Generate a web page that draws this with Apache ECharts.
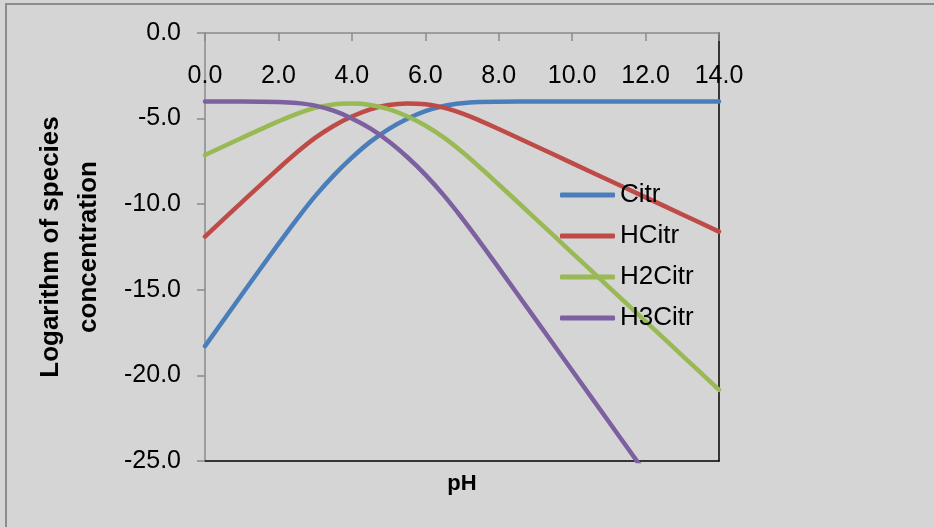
<!DOCTYPE html>
<html>
<head>
<meta charset="utf-8">
<script src="https://cdn.jsdelivr.net/npm/echarts@6/dist/echarts.min.js"></script>
<style>
  html, body { margin: 0; padding: 0; background: #d5d5d5; }
  #chart { width: 934px; height: 527px; }
</style>
</head>
<body>
<div id="chart"></div>
<script>
  const ph = [0, 1, 2, 2.5, 3, 3.5, 4, 4.5, 5, 5.5, 6, 6.5, 7, 7.5, 8, 9, 10, 11, 12, 13, 14];
  const citr = [-18.29, -15.29, -12.32, -10.88, -9.53, -8.33, -7.28, -6.36, -5.61, -5.02, -4.56, -4.26, -4.10, -4.03, -4.01, -4.00, -4.00, -4.00, -4.00, -4.00, -4.00];
  const hcitr = [-11.89, -9.89, -7.92, -6.98, -6.13, -5.43, -4.88, -4.46, -4.21, -4.12, -4.16, -4.36, -4.70, -5.13, -5.61, -6.60, -7.60, -8.60, -9.60, -10.60, -11.60];
  const h2citr = [-7.13, -6.13, -5.16, -4.72, -4.37, -4.17, -4.12, -4.20, -4.45, -4.86, -5.40, -6.10, -6.94, -7.87, -8.85, -10.84, -12.84, -14.84, -16.84, -18.84, -20.84];
  const h3citr = [-4.00, -4.00, -4.03, -4.09, -4.24, -4.54, -4.99, -5.57, -6.32, -7.23, -8.27, -9.47, -10.81, -12.24, -13.72, -16.71, -19.71, -22.71, -25.71, null, null];
  const seriesNames = ["Citr", "HCitr", "H2Citr", "H3Citr"];
  const seriesValues = [citr, hcitr, h2citr, h3citr];
  const colors = ["#4a7ebb", "#be4b48", "#98b954", "#7d60a0"];

  const font = "'Liberation Sans', Arial, sans-serif";
  const chart = echarts.init(document.getElementById("chart"));

  function pairs(values) {
    return ph.map((x, i) => [x, values[i]]);
  }

  chart.setOption({
    animation: false,
    backgroundColor: "#d5d5d5",
    color: colors,
    textStyle: { fontFamily: font },
    grid: { left: 205, right: 215, top: 33, bottom: 66 },
    graphic: [{
      type: "rect",
      silent: true,
      shape: { x: 6, y: 4, width: 1000, height: 600 },
      style: { fill: null, stroke: "#8c8c8c", lineWidth: 2 }
    }],
    legend: {
      orient: "vertical",
      left: 560,
      top: 182,
      padding: 0,
      icon: "roundRect",
      itemWidth: 55,
      itemHeight: 5,
      itemGap: 15,
      data: seriesNames,
      textStyle: { fontSize: 26, color: "#000", fontFamily: font }
    },
    xAxis: [
      {
        type: "value", position: "top", min: 0, max: 14, interval: 2,
        axisLine: { onZero: false, lineStyle: { color: "#8a8a8a", width: 1.5 } },
        axisTick: { inside: true, length: 8, lineStyle: { color: "#8a8a8a", width: 1.5 } },
        axisLabel: { inside: true, margin: 31, fontSize: 25, color: "#000", formatter: (v) => v.toFixed(1) },
        splitLine: { show: false }
      },
      {
        type: "value", position: "bottom", min: 0, max: 14,
        axisLine: { onZero: false, lineStyle: { color: "#000", width: 1.5 } },
        axisTick: { show: false },
        axisLabel: { show: false },
        splitLine: { show: false },
        name: "pH", nameLocation: "middle", nameGap: 12,
        nameTextStyle: { fontSize: 22, fontWeight: "bold", color: "#000", verticalAlign: "top" }
      }
    ],
    yAxis: [
      {
        type: "value", position: "left", min: -25, max: 0, interval: 5,
        axisLine: { show: true, onZero: false, lineStyle: { color: "#8a8a8a", width: 1.5 } },
        axisTick: { show: true, length: 8, lineStyle: { color: "#8a8a8a", width: 1.5 } },
        axisLabel: { margin: 24, fontSize: 25, color: "#000", formatter: (v) => v.toFixed(1) },
        splitLine: { show: false },
        name: "Logarithm of species\nconcentration", nameLocation: "middle", nameRotate: 90, nameGap: 97,
        nameTextStyle: { fontSize: 26, fontWeight: "bold", color: "#000", lineHeight: 38, align: "center" }
      },
      {
        type: "value", position: "right", min: -25, max: 0,
        axisLine: { show: true, onZero: false, lineStyle: { color: "#000", width: 1.5 } },
        axisTick: { show: false },
        axisLabel: { show: false },
        splitLine: { show: false }
      }
    ],
    series: seriesNames.map((name, i) => ({
      name,
      type: "line",
      xAxisIndex: 0,
      yAxisIndex: 0,
      smooth: 0.4,
      symbol: "none",
      clip: true,
      lineStyle: { width: 4.5, color: colors[i], cap: "round" },
      itemStyle: { color: colors[i] },
      data: pairs(seriesValues[i])
    }))
  });
</script>
</body>
</html>
